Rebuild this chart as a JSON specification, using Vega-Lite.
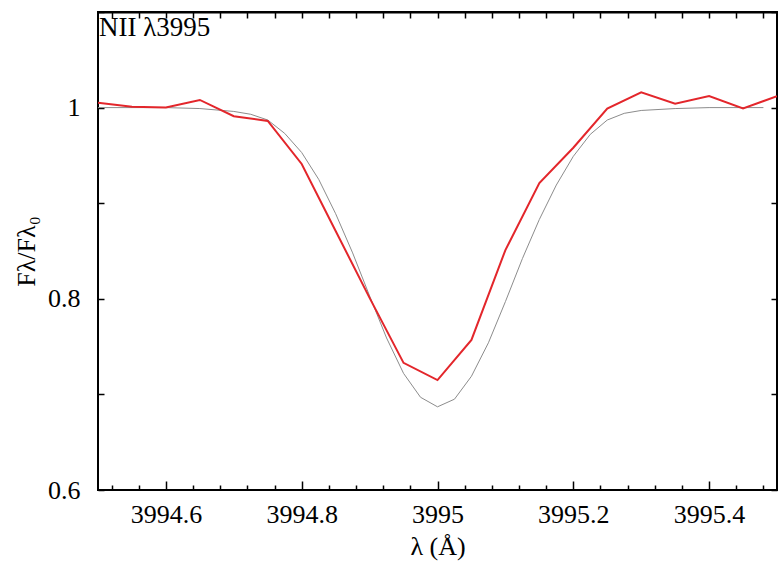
{
  "$schema": "https://vega.github.io/schema/vega-lite/v6.json",
  "autosize": "none",
  "width": 679,
  "height": 478,
  "padding": {"left": 98, "top": 12, "right": 1, "bottom": 71},
  "background": "white",
  "config": {
    "view": {"stroke": "black", "strokeWidth": 2},
    "font": "Liberation Serif",
    "axis": {"domain": false, "grid": false, "labelFont": "Liberation Serif", "titleFont": "Liberation Serif", "labelColor": "black", "titleColor": "black", "tickColor": "black", "tickWidth": 1.5, "labelFontSize": 26, "titleFontSize": 26, "titleFontWeight": "normal"}
  },
  "datasets": {
    "model": [
      {"wl": 3994.5, "f": 1.0}, {"wl": 3994.6, "f": 1.0}, {"wl": 3994.65, "f": 0.999},
      {"wl": 3994.7, "f": 0.996}, {"wl": 3994.725, "f": 0.993}, {"wl": 3994.75, "f": 0.987},
      {"wl": 3994.775, "f": 0.973}, {"wl": 3994.8, "f": 0.953}, {"wl": 3994.825, "f": 0.925},
      {"wl": 3994.85, "f": 0.889}, {"wl": 3994.875, "f": 0.848}, {"wl": 3994.9, "f": 0.803},
      {"wl": 3994.925, "f": 0.759}, {"wl": 3994.95, "f": 0.722}, {"wl": 3994.975, "f": 0.697},
      {"wl": 3995.0, "f": 0.687}, {"wl": 3995.025, "f": 0.695}, {"wl": 3995.05, "f": 0.719},
      {"wl": 3995.075, "f": 0.754}, {"wl": 3995.1, "f": 0.797}, {"wl": 3995.125, "f": 0.842},
      {"wl": 3995.15, "f": 0.883}, {"wl": 3995.175, "f": 0.919}, {"wl": 3995.2, "f": 0.949},
      {"wl": 3995.225, "f": 0.972}, {"wl": 3995.25, "f": 0.987}, {"wl": 3995.275, "f": 0.994},
      {"wl": 3995.3, "f": 0.997}, {"wl": 3995.35, "f": 0.999}, {"wl": 3995.4, "f": 1.0},
      {"wl": 3995.48, "f": 1.0}
    ],
    "obs": [
      {"wl": 3994.5, "f": 1.005}, {"wl": 3994.55, "f": 1.001}, {"wl": 3994.6, "f": 1.0},
      {"wl": 3994.65, "f": 1.008}, {"wl": 3994.7, "f": 0.991}, {"wl": 3994.75, "f": 0.986},
      {"wl": 3994.8, "f": 0.941}, {"wl": 3994.85, "f": 0.871}, {"wl": 3994.9, "f": 0.801},
      {"wl": 3994.95, "f": 0.733}, {"wl": 3995.0, "f": 0.715}, {"wl": 3995.05, "f": 0.757},
      {"wl": 3995.1, "f": 0.851}, {"wl": 3995.15, "f": 0.921}, {"wl": 3995.2, "f": 0.958},
      {"wl": 3995.25, "f": 0.999}, {"wl": 3995.3, "f": 1.016}, {"wl": 3995.35, "f": 1.004},
      {"wl": 3995.4, "f": 1.012}, {"wl": 3995.45, "f": 0.999}, {"wl": 3995.5, "f": 1.012}
    ],
    "label": [{"wl": 3994.5, "f": 1.1, "text": "NII λ3995"}]
  },
  "layer": [
    {
      "data": {"name": "model"},
      "mark": {"type": "line", "color": "#8c8c8c", "strokeWidth": 1, "clip": true},
      "encoding": {
        "x": {"field": "wl", "type": "quantitative", "scale": {"domain": [3994.5, 3995.5], "nice": false, "zero": false},
          "axis": {"orient": "bottom", "title": "λ (Å)", "titlePadding": 2,
            "values": [3994.52, 3994.56, 3994.6, 3994.64, 3994.68, 3994.72, 3994.76, 3994.8, 3994.84, 3994.88, 3994.92, 3994.96, 3995.0, 3995.04, 3995.08, 3995.12, 3995.16, 3995.2, 3995.24, 3995.28, 3995.32, 3995.36, 3995.4, 3995.44, 3995.48],
            "labelExpr": "abs(datum.value/0.2 - round(datum.value/0.2)) < 0.001 ? format(datum.value, '~f') : ''",
            "tickSize": {"condition": {"test": "abs(datum.value/0.2 - round(datum.value/0.2)) < 0.001", "value": -9}, "value": -5},
            "labelPadding": 20, "labelOverlap": false, "labelFlush": false}},
        "y": {"field": "f", "type": "quantitative", "scale": {"domain": [0.6, 1.1], "nice": false, "zero": false},
          "axis": {"orient": "left", "title": "Fλ/Fλ₀", "titlePadding": 8,
            "values": [0.6, 0.7, 0.8, 0.9, 1.0, 1.1],
            "labelExpr": "(datum.value == 0.6 || datum.value == 0.8 || datum.value == 1) ? format(datum.value, '~f') : ''",
            "tickSize": -6, "labelPadding": 24, "labelOverlap": false, "labelFlush": false}}
      }
    },
    {
      "data": {"name": "obs"},
      "mark": {"type": "line", "color": "#e3262b", "strokeWidth": 2, "clip": true},
      "encoding": {
        "x": {"field": "wl", "type": "quantitative",
          "axis": {"orient": "top", "title": null, "labels": true, "labelOpacity": 0, "labelFontSize": 10, "domain": true, "domainColor": "black", "domainWidth": 2,
            "values": [3994.52, 3994.56, 3994.6, 3994.64, 3994.68, 3994.72, 3994.76, 3994.8, 3994.84, 3994.88, 3994.92, 3994.96, 3995.0, 3995.04, 3995.08, 3995.12, 3995.16, 3995.2, 3995.24, 3995.28, 3995.32, 3995.36, 3995.4, 3995.44, 3995.48],
            "tickSize": -6}},
        "y": {"field": "f", "type": "quantitative",
          "axis": {"orient": "right", "title": null, "labels": false, "domain": true, "domainColor": "black", "domainWidth": 2, "values": [0.6, 0.7, 0.8, 0.9, 1.0, 1.1], "tickSize": -6}}
      }
    },
    {
      "mark": {"type": "rule", "color": "black", "strokeWidth": 2},
      "encoding": {
        "y": {"datum": 1.1, "type": "quantitative", "axis": null}
      }
    },
    {
      "data": {"name": "label"},
      "mark": {"type": "text", "align": "left", "baseline": "top", "dx": 1, "dy": 3, "font": "Liberation Serif", "fontSize": 27, "color": "black"},
      "encoding": {
        "x": {"field": "wl", "type": "quantitative", "axis": null},
        "y": {"field": "f", "type": "quantitative", "axis": null},
        "text": {"field": "text"}
      }
    }
  ],
  "resolve": {"axis": {"x": "independent", "y": "independent"}}
}
